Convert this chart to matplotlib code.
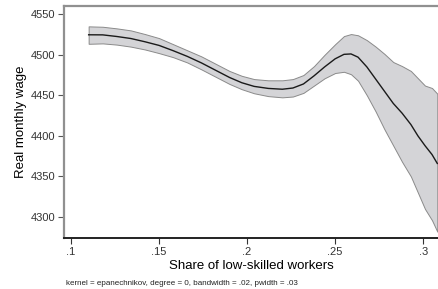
import matplotlib
matplotlib.use("Agg")
import matplotlib.pyplot as plt

# Local polynomial fit with 95% band
share = [0.110, 0.118, 0.126, 0.134, 0.142, 0.150, 0.158, 0.166, 0.174, 0.182,
         0.190, 0.197, 0.204, 0.212, 0.220, 0.226, 0.232, 0.238, 0.244, 0.250,
         0.255, 0.259, 0.263, 0.268, 0.273, 0.278, 0.283, 0.288, 0.293, 0.297,
         0.301, 0.305, 0.308]
wage = [4524.6, 4524.5, 4522.5, 4520, 4516, 4511.5, 4505, 4498, 4490, 4481,
        4472, 4465.5, 4461, 4458.5, 4457.5, 4459, 4464, 4474, 4485, 4495,
        4500.5, 4501, 4497, 4485, 4470, 4455, 4440, 4428, 4414, 4400,
        4388, 4377, 4366]
ci_upper = [4535, 4534.5, 4532.5, 4530, 4525.5, 4520.5, 4513, 4505.5, 4498, 4489,
            4480, 4474, 4470, 4468.5, 4468.5, 4470, 4475, 4486, 4500, 4513,
            4523, 4525.5, 4524, 4518, 4510, 4501, 4491, 4486, 4480, 4471,
            4462, 4459, 4452]
ci_lower = [4513.5, 4514, 4512.5, 4510, 4506.5, 4502, 4497, 4490.5, 4482, 4473,
            4464, 4457.5, 4452.5, 4449, 4447.5, 4448.5, 4453, 4462, 4471, 4477.5,
            4479, 4476, 4468, 4450, 4430, 4408, 4388, 4368, 4350, 4330,
            4310, 4296, 4282]

xticks = [0.10, 0.15, 0.20, 0.25, 0.30]
xtick_labels = [".1", ".15", ".2", ".25", ".3"]
yticks = [4300, 4350, 4400, 4450, 4500, 4550]

plt.rcParams['font.family'] = ['Liberation Sans', 'DejaVu Sans']

fig = plt.figure(figsize=(4.38, 2.89), dpi=100)
ax = fig.add_axes([0.1461, 0.1775, 0.8539, 0.8015])

ax.fill_between(share, ci_lower, ci_upper, facecolor='#d4d4d7',
                edgecolor='#8a8a8a', linewidth=0.7, zorder=1)
ax.plot(share, wage, color='#1a1a1a', linewidth=1.0, zorder=2)

ax.set_xlim(0.096, 0.3084)
ax.set_ylim(4274.5, 4560)
ax.set_xticks(xticks)
ax.set_xticklabels(xtick_labels)
ax.set_yticks(yticks)

ax.spines['right'].set_visible(False)
ax.spines['top'].set_color('#909090')
ax.spines['top'].set_linewidth(1.6)
ax.spines['left'].set_color('#909090')
ax.spines['left'].set_linewidth(1.6)
ax.spines['bottom'].set_color('#222222')
ax.spines['bottom'].set_linewidth(1.4)

ax.tick_params(axis='y', length=4, width=0.8, color='#555555', labelsize=8,
               labelcolor='#333333', pad=2)
ax.tick_params(axis='x', length=4, width=0.8, color='#333333', labelsize=8,
               labelcolor='#333333', pad=3)

ax.set_ylabel("Real monthly wage", fontsize=9.5, labelpad=3)
ax.set_xlabel("Share of low-skilled workers", fontsize=9.5, labelpad=2)

fig.text(0.151, 0.015, "kernel = epanechnikov, degree = 0, bandwidth = .02, pwidth = .03",
         fontsize=5.8, color='#222222')

fig.savefig("out.png", dpi=100)
